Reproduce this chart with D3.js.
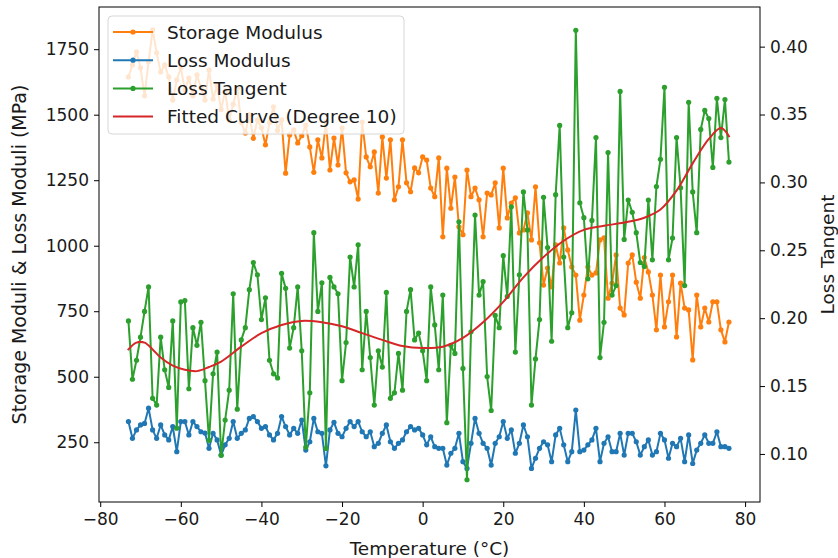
<!DOCTYPE html>
<html>
<head>
<meta charset="utf-8">
<script src="https://cdn.jsdelivr.net/npm/d3@7"></script>
<style>
	body { margin: 0; background: #fff; }
	svg text { font-family: "DejaVu Sans", sans-serif; fill: #1a1a1a; }
</style>
</head>
<body>
<svg id="chart" width="838" height="558"></svg>
<script>
// temperature in °C, one reading per degree
const temperature = [
	-73,-72,-71,-70,-69,-68,-67,-66,-65,-64,-63,-62,-61,-60,-59,-58,-57,-56,-55,-54,
	-53,-52,-51,-50,-49,-48,-47,-46,-45,-44,-43,-42,-41,-40,-39,-38,-37,-36,-35,-34,
	-33,-32,-31,-30,-29,-28,-27,-26,-25,-24,-23,-22,-21,-20,-19,-18,-17,-16,-15,-14,
	-13,-12,-11,-10,-9,-8,-7,-6,-5,-4,-3,-2,-1,0,1,2,3,4,5,6,
	7,8,9,10,11,12,13,14,15,16,17,18,19,20,21,22,23,24,25,26,
	27,28,29,30,31,32,33,34,35,36,37,38,39,40,41,42,43,44,45,46,
	47,48,49,50,51,52,53,54,55,56,57,58,59,60,61,62,63,64,65,66,
	67,68,69,70,71,72,73,74,75,76
];

const storageModulus = [
	1644,1690,1740,1679,1572,1702,1824,1736,1663,1690,
	1644,1556,1633,1679,1595,1640,1572,1652,1602,1556,
	1671,1560,1610,1520,1590,1480,1540,1600,1470,1430,
	1500,1410,1480,1450,1385,1470,1530,1440,1480,1277,
	1423,1442,1392,1420,1460,1377,1280,1404,1335,1472,
	1289,1411,1308,1449,1278,1244,1251,1178,1472,1339,
	1301,1358,1201,1415,1258,1404,1175,1225,1404,1240,
	1206,1297,1278,1339,1327,1220,1187,1335,1034,1296,
	1143,1262,1072,1042,1289,1187,1220,1175,1034,1201,
	1194,1240,1068,1296,1106,1163,1183,1049,1060,1125,
	1022,1225,1011,850,915,843,1003,934,1068,984,
	919,888,716,812,919,888,896,1022,1030,800,
	857,965,762,736,934,965,861,800,955,900,
	812,679,888,690,786,888,652,857,762,755,
	564,812,690,762,709,786,786,679,633,709
];

const lossModulus = [
	329,265,297,316,322,380,297,265,316,278,
	259,310,214,329,329,278,329,310,290,285,
	227,284,259,201,240,265,329,265,284,297,
	341,348,329,303,310,278,259,284,348,310,
	278,303,284,335,220,252,341,290,284,160,
	297,326,284,271,303,329,310,329,290,271,
	290,233,246,284,316,252,227,246,259,290,
	310,297,303,278,240,271,233,227,227,163,
	208,227,284,176,150,246,341,284,246,227,
	163,246,271,329,265,297,208,246,316,271,
	150,189,227,252,240,176,278,303,240,176,
	214,373,214,220,240,259,303,176,246,271,
	214,214,284,201,284,284,252,201,233,259,
	201,214,284,259,189,246,233,265,176,278,
	169,220,246,278,246,246,290,233,233,227
];

const lossTangent = [
	0.198,0.155,0.169,0.186,0.205,0.223,0.141,0.136,0.186,0.162,
	0.149,0.198,0.119,0.212,0.213,0.148,0.193,0.180,0.197,0.154,
	0.110,0.159,0.175,0.099,0.125,0.147,0.218,0.133,0.184,0.193,
	0.221,0.241,0.232,0.199,0.215,0.169,0.159,0.156,0.233,0.222,
	0.178,0.193,0.223,0.176,0.105,0.145,0.263,0.205,0.226,0.104,
	0.230,0.223,0.218,0.154,0.182,0.245,0.223,0.254,0.162,0.205,
	0.171,0.136,0.176,0.164,0.219,0.141,0.145,0.174,0.147,0.205,
	0.221,0.184,0.189,0.176,0.154,0.223,0.195,0.162,0.217,0.123,
	0.180,0.174,0.271,0.163,0.081,0.190,0.276,0.217,0.227,0.157,
	0.132,0.202,0.193,0.246,0.216,0.282,0.175,0.232,0.293,0.265,
	0.136,0.170,0.199,0.289,0.252,0.183,0.291,0.342,0.245,0.193,
	0.204,0.412,0.285,0.274,0.229,0.272,0.333,0.171,0.197,0.322,
	0.217,0.224,0.367,0.258,0.287,0.278,0.263,0.241,0.238,0.287,
	0.243,0.297,0.317,0.370,0.243,0.259,0.333,0.296,0.224,0.359,
	0.293,0.263,0.339,0.353,0.347,0.311,0.362,0.333,0.361,0.315
];

// degree 10 fit
const fitTemperature = [-73,-71,-69,-67,-65,-62,-59,-56,-53,-50,-45,-40,-35,-30,-25,-20,-15,-10,-5,0,
	5,10,15,20,25,30,35,40,45,50,55,59,63,67,71,74,76];
const fitTangent = [0.177,0.182,0.182,0.177,0.171,0.165,0.162,0.161,0.164,0.168,0.179,0.189,0.195,0.198,0.197,0.194,0.189,0.184,0.1795,0.178,
	0.179,0.1855,0.197,0.212,0.230,0.245,0.257,0.265,0.268,0.2705,0.274,0.280,0.294,0.314,0.332,0.340,0.334];

const xTicks = [-80,-60,-40,-20,0,20,40,60,80];
const leftTicks = [250,500,750,1000,1250,1500,1750];
const rightTicks = [0.10,0.15,0.20,0.25,0.30,0.35,0.40];

const legendLabels = ["Storage Modulus", "Loss Modulus", "Loss Tangent", "Fitted Curve (Degree 10)"];
const colors = ["#ff7f0e", "#1f77b4", "#2ca02c", "#d62728"];

(function() {
	const plot = {left: 99, right: 760, top: 7, bottom: 502};
	const tickSize = 17;
	const labelSize = 18.5;

	window.addEventListener("load", init);

	function init() {
		let svg = d3.select("#chart");

		let x = d3.scaleLinear().domain([-80.3, 83.7]).range([plot.left, plot.right]);
		let yLeft = d3.scaleLinear().domain([22, 1911]).range([plot.bottom, plot.top]);
		let yRight = d3.scaleLinear().domain([0.0646, 0.4292]).range([plot.bottom, plot.top]);

		drawAxes(svg, x, yLeft, yRight);

		drawSeries(svg, temperature, storageModulus, x, yLeft, colors[0], true);
		drawSeries(svg, temperature, lossModulus, x, yLeft, colors[1], true);
		drawSeries(svg, temperature, lossTangent, x, yRight, colors[2], true);
		drawSeries(svg, fitTemperature, fitTangent, x, yRight, colors[3], false);

		// frame on top of the lines, like matplotlib spines
		svg.append("rect")
			.attr("x", plot.left)
			.attr("y", plot.top)
			.attr("width", plot.right - plot.left)
			.attr("height", plot.bottom - plot.top)
			.attr("fill", "none")
			.attr("stroke", "#000")
			.attr("stroke-width", 1);

		drawLegend(svg);
	}

	function drawSeries(svg, xs, ys, x, y, color, markers) {
		let pts = xs.map((t, i) => [t, ys[i]]);
		let line = d3.line()
			.x(d => x(d[0]))
			.y(d => y(d[1]));
		if (!markers) line.curve(d3.curveCatmullRom.alpha(0.5));

		svg.append("path")
			.datum(pts)
			.attr("d", line)
			.attr("fill", "none")
			.attr("stroke", color)
			.attr("stroke-width", 2)
			.attr("stroke-linejoin", "round")
			.attr("stroke-linecap", "square");

		if (markers) {
			svg.append("g")
				.selectAll("circle")
				.data(pts)
				.enter()
				.append("circle")
				.attr("cx", d => x(d[0]))
				.attr("cy", d => y(d[1]))
				.attr("r", 2.6)
				.attr("fill", color);
		}
	}

	function drawAxes(svg, x, yLeft, yRight) {
		let bottom = svg.append("g")
			.attr("transform", "translate(0," + plot.bottom + ")")
			.call(d3.axisBottom(x).tickValues(xTicks).tickSize(5).tickPadding(6).tickFormat(d3.format("d")));
		let left = svg.append("g")
			.attr("transform", "translate(" + plot.left + ",0)")
			.call(d3.axisLeft(yLeft).tickValues(leftTicks).tickSize(5).tickPadding(5).tickFormat(d3.format("d")));
		let right = svg.append("g")
			.attr("transform", "translate(" + plot.right + ",0)")
			.call(d3.axisRight(yRight).tickValues(rightTicks).tickSize(5).tickPadding(5).tickFormat(d3.format(".2f")));

		[bottom, left, right].forEach(function(g) {
			g.select(".domain").remove();
			g.selectAll(".tick line").attr("stroke", "#000");
			g.selectAll(".tick text")
				.attr("font-family", null)
				.style("font-size", tickSize + "px");
		});

		svg.append("text")
			.attr("x", (plot.left + plot.right) / 2)
			.attr("y", 548)
			.attr("text-anchor", "middle")
			.attr("dominant-baseline", "central")
			.style("font-size", labelSize + "px")
			.text("Temperature (°C)");

		svg.append("text")
			.attr("transform", "translate(19," + (plot.top + plot.bottom) / 2 + ") rotate(-90)")
			.attr("text-anchor", "middle")
			.attr("dominant-baseline", "central")
			.style("font-size", "19px")
			.text("Storage Moduli & Loss Moduli (MPa)");

		svg.append("text")
			.attr("transform", "translate(827," + (plot.top + plot.bottom) / 2 + ") rotate(-90)")
			.attr("text-anchor", "middle")
			.attr("dominant-baseline", "central")
			.style("font-size", labelSize + "px")
			.text("Loss Tangent");
	}

	function drawLegend(svg) {
		let legend = svg.append("g");

		legend.append("rect")
			.attr("x", 108)
			.attr("y", 16)
			.attr("width", 296)
			.attr("height", 118)
			.attr("rx", 4)
			.attr("fill", "#fff")
			.attr("fill-opacity", 0.8)
			.attr("stroke", "#d6d6d6");

		let rows = legend.selectAll(".entry")
			.data(legendLabels)
			.enter()
			.append("g")
			.attr("class", "entry")
			.attr("transform", (d, i) => "translate(0," + (32 + i * 28.2) + ")");

		rows.append("line")
			.attr("x1", 113)
			.attr("x2", 153)
			.attr("stroke", (d, i) => colors[i])
			.attr("stroke-width", 2);

		rows.filter((d, i) => i < 3)
			.append("circle")
			.attr("cx", 133)
			.attr("r", 2.6)
			.attr("fill", (d, i) => colors[i]);

		rows.append("text")
			.attr("x", 167)
			.attr("dominant-baseline", "central")
			.style("font-size", labelSize + "px")
			.text(d => d);
	}
})();
</script>
</body>
</html>
